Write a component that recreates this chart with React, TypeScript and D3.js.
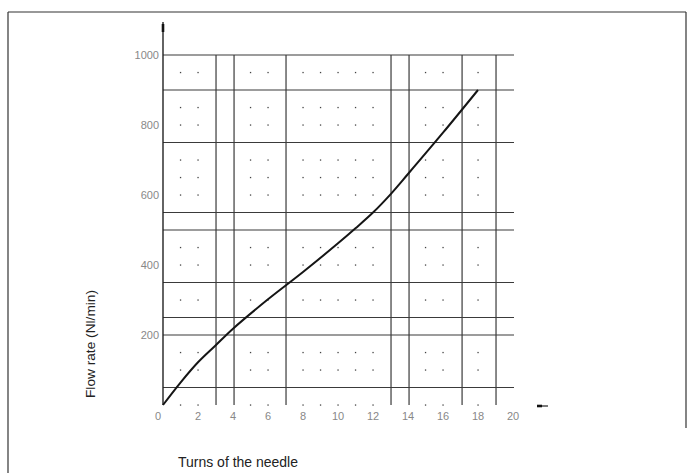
import React from "react";
import * as d3 from "d3";

const turns = [0, 1, 2, 3, 4, 6, 8, 10, 11, 12, 13, 14, 16, 18];
const flow = [0, 64, 122, 170, 218, 302, 380, 462, 505, 550, 602, 660, 778, 900];

const xTicks = [0, 2, 4, 6, 8, 10, 12, 14, 16, 18, 20];
const yTicks = [200, 400, 600, 800, 1000];

const vLines = [3.03, 4.06, 7.03, 13.03, 14.06, 17.09, 19.03];
const hLines = [1000, 900, 750, 550, 500, 350, 250, 200, 50];

const dotTurns = [1, 2, 5, 6, 8, 9, 10, 11, 12, 15, 16, 18];
const dotFlows = [950, 850, 800, 700, 650, 600, 450, 400, 300, 150, 100, 0];

const FONT = "'Liberation Sans Narrow', 'Liberation Sans', Arial, sans-serif";

export default function App() {
  const x = d3.scaleLinear().domain([0, 20]).range([163, 513]);
  const y = d3.scaleLinear().domain([0, 1000]).range([405, 55]);
  const pts: [number, number][] = turns.map((t, i) => [t, flow[i]]);
  const line = d3
    .line<[number, number]>()
    .x((d) => x(d[0]))
    .y((d) => y(d[1]))
    .curve(d3.curveCatmullRom.alpha(0.5));

  const dots: [number, number][] = [];
  dotTurns.forEach((t) => dotFlows.forEach((f) => dots.push([t, f])));

  const gridColor = "#3a3a3a";

  return (
    <svg
      width={692}
      height={473}
      style={{ position: "absolute", left: 0, top: 0, background: "#fff" }}
    >
      {/* frame */}
      <line x1={8} y1={12} x2={686} y2={12} stroke="#333" strokeWidth={1.2} />
      <line x1={8} y1={12} x2={8} y2={473} stroke="#333" strokeWidth={1.2} />
      <line x1={686} y1={12} x2={686} y2={428} stroke="#333" strokeWidth={1.2} />

      {/* grid lines */}
      {hLines.map((f) => (
        <line
          key={"h" + f}
          x1={x(0)}
          x2={x(20) + 1}
          y1={y(f)}
          y2={y(f)}
          stroke={gridColor}
          strokeWidth={1.2}
        />
      ))}
      {vLines.map((t) => (
        <line
          key={"v" + t}
          x1={x(t)}
          x2={x(t)}
          y1={y(1000)}
          y2={y(0)}
          stroke={gridColor}
          strokeWidth={1.2}
        />
      ))}

      {/* dots */}
      {dots.map(([t, f], i) => (
        <rect
          key={"d" + i}
          x={x(t) - 0.6}
          y={y(f) - 0.6}
          width={1.3}
          height={1.3}
          fill="#444"
        />
      ))}

      {/* y axis */}
      <line x1={x(0)} x2={x(0)} y1={22} y2={y(0)} stroke="#222" strokeWidth={1.4} />
      <line x1={x(0)} x2={x(0)} y1={24} y2={32} stroke="#111" strokeWidth={2.6} />
      {/* x axis arrow mark */}
      <line x1={537} x2={548} y1={406} y2={406} stroke="#222" strokeWidth={1.2} />
      <line x1={537} x2={542} y1={406} y2={406} stroke="#111" strokeWidth={2.6} />

      {/* curve */}
      <path d={line(pts) || ""} fill="none" stroke="#151515" strokeWidth={2} />

      {/* tick labels */}
      {yTicks.map((v) => (
        <text
          key={"yt" + v}
          x={159}
          y={y(v)}
          dy="0.35em"
          textAnchor="end"
          fontFamily={FONT}
          fontSize={11}
          fill="#888"
        >
          {v}
        </text>
      ))}
      {xTicks.map((v) => (
        <text
          key={"xt" + v}
          x={x(v) + (v === 0 ? -5 : 0)}
          y={416}
          dy="0.35em"
          textAnchor="middle"
          fontFamily={FONT}
          fontSize={11}
          fill="#888"
        >
          {v}
        </text>
      ))}

      {/* axis titles */}
      <text
        transform="translate(95,344) rotate(-90)"
        textAnchor="middle"
        fontFamily={FONT}
        fontSize={13.5}
        fill="#222"
        textLength={108}
        lengthAdjust="spacingAndGlyphs"
      >
        Flow rate (Nl/min)
      </text>
      <text
        x={178}
        y={467}
        fontFamily={FONT}
        fontSize={15}
        fill="#222"
        textLength={120}
        lengthAdjust="spacingAndGlyphs"
      >
        Turns of the needle
      </text>
    </svg>
  );
}
